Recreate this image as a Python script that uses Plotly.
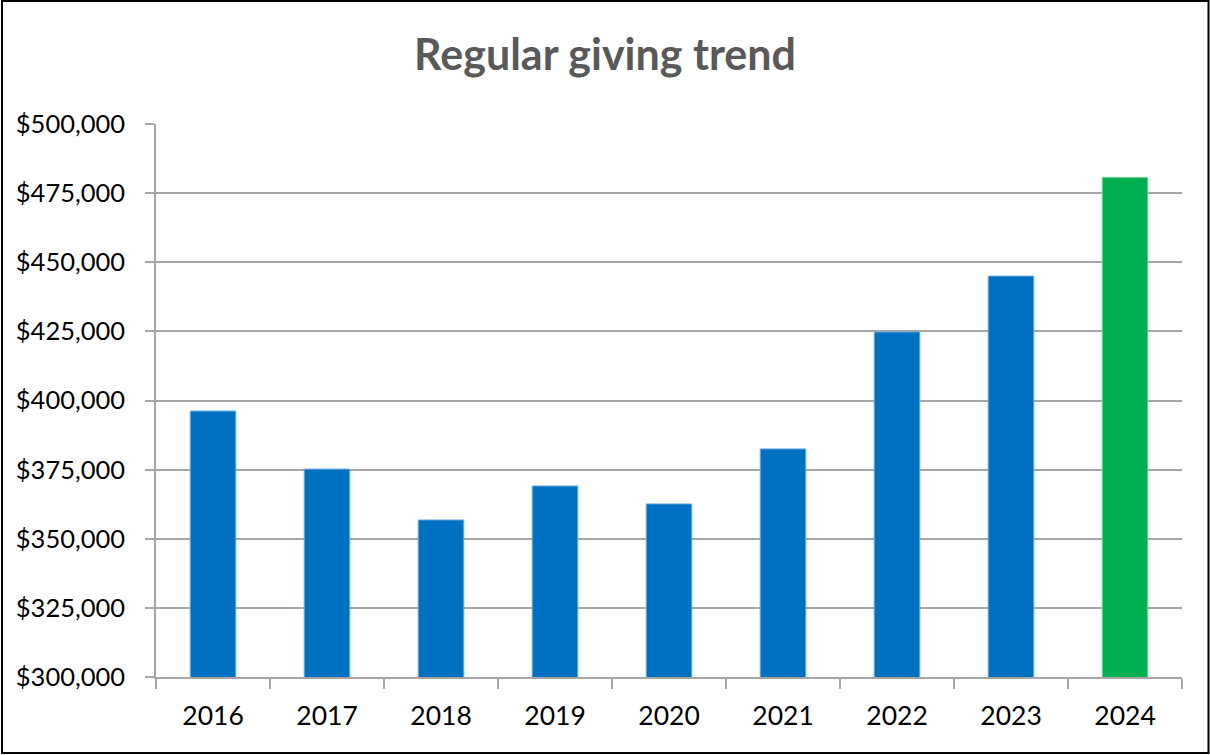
import plotly.graph_objects as go

years = ["2016", "2017", "2018", "2019", "2020", "2021", "2022", "2023", "2024"]
giving = [396200, 375200, 356800, 369100, 362600, 382500, 424800, 445000, 480700]
bar_colors = ["#0070C0"] * 8 + ["#00B050"]
edge_colors = ["#6FAEE0"] * 8 + ["#7FD8A4"]
y_ticks = [300000, 325000, 350000, 375000, 400000, 425000, 450000, 475000, 500000]
y_labels = ["${:,}".format(v) for v in y_ticks]

W, H = 1210, 755
L, R, T, B = 156, 28, 124, 78
pw, ph = W - L - R, H - T - B

fig = go.Figure(go.Bar(
    x=years, y=giving,
    marker=dict(color=bar_colors, line=dict(color=edge_colors, width=1)),
    width=0.4,
))

def px(x):
    return (x - L) / pw

def py(y):
    return (H - B - y) / ph

fig.add_shape(type="rect", xref="paper", yref="paper",
              x0=px(2), x1=px(W - 1.5), y0=py(H - 2), y1=py(1),
              line=dict(color="black", width=2), fillcolor="rgba(0,0,0,0)", layer="above")

grid = "#A6A6A6"
fig.update_layout(
    width=W, height=H,
    margin=dict(l=L, r=R, t=T, b=B),
    paper_bgcolor="white", plot_bgcolor="white",
    showlegend=False,
    font=dict(family="Lato", color="black", size=25),
    title=dict(text="<b>Regular giving trend</b>", x=0.5, xref="container",
               xanchor="center",
               y=1 - 55 / H, yref="container", yanchor="middle",
               font=dict(family="Lato", size=43, color="#595959")),
    xaxis=dict(
        type="category", showline=True, linecolor=grid, linewidth=1.5,
        ticks="outside", tickson="boundaries", ticklen=10, tickcolor=grid, tickwidth=1.5,
        showgrid=False, tickfont=dict(size=26.5, color="black"), ticklabelstandoff=14,
    ),
    yaxis=dict(
        range=[300000, 500000], tickvals=y_ticks, ticktext=y_labels,
        showline=True, linecolor=grid, linewidth=1.5,
        ticks="outside", ticklen=9, tickcolor=grid, tickwidth=1.5,
        showgrid=True, gridcolor=grid, gridwidth=1.5, zeroline=False,
        tickfont=dict(size=25.5, color="black"), ticklabelstandoff=15,
    ),
)

fig.write_html("out.html", config={"displayModeBar": False},
               post_script="document.body.style.margin='0';document.body.style.overflow='hidden';")
